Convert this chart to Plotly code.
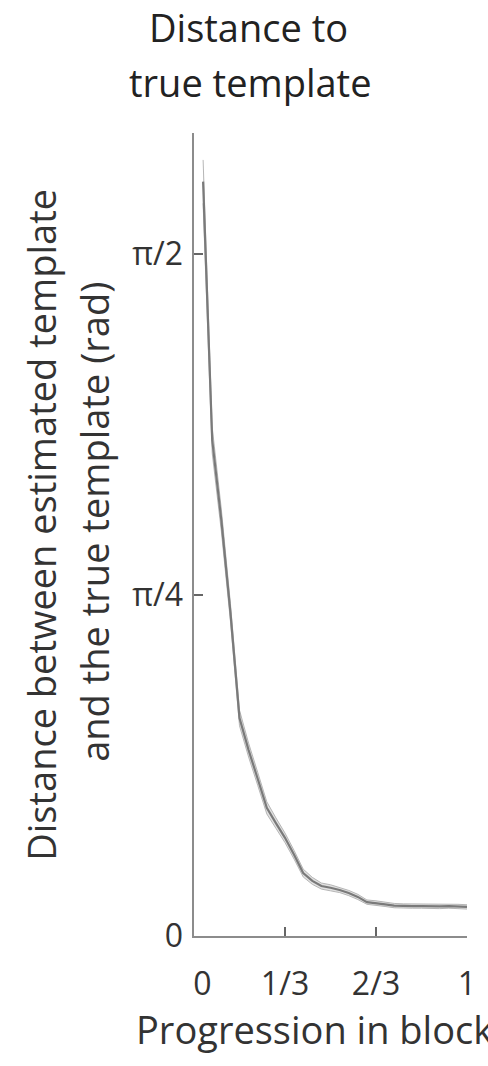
import math
import plotly.graph_objects as go

# ---- data ----
progress = [1/30, 2/30, 3/30, 4/30, 5/30, 6/30, 7/30, 8/30, 9/30, 10/30,
            11/30, 12/30, 13/30, 14/30, 15/30, 16/30, 17/30, 18/30, 19/30, 20/30,
            21/30, 22/30, 23/30, 24/30, 25/30, 26/30, 27/30, 28/30, 29/30, 30/30]
distance = [1.737, 1.142, 0.958, 0.746, 0.502, 0.428, 0.362, 0.295, 0.260, 0.226,
            0.187, 0.145, 0.127, 0.115, 0.111, 0.106, 0.099, 0.090, 0.078, 0.076,
            0.073, 0.070, 0.069, 0.069, 0.069, 0.068, 0.068, 0.069, 0.068, 0.067]
spread = [0.050, 0.030, 0.025, 0.020, 0.018, 0.016, 0.015, 0.014, 0.012, 0.011,
          0.010, 0.009, 0.008, 0.007, 0.007, 0.006, 0.006, 0.006, 0.005, 0.005,
          0.005, 0.005, 0.005, 0.005, 0.005, 0.005, 0.005, 0.005, 0.005, 0.005]
x_tickvals = [0, 1/3, 2/3, 1]
x_ticktext = ["\u00a0\u00a00", "1/3", "2/3", "1"]
y_tickvals = [0, math.pi / 4, math.pi / 2]
y_ticktext = ["0", "π/4", "π/2"]

lower = [d - s for d, s in zip(distance, spread)]
upper = [d + s for d, s in zip(distance, spread)]

W, H = 488, 1066
L, R, T, B = 194, 16, 133, 130
PW, PH = W - L - R, H - T - B

def px(xpage):
    return (xpage - L) / PW

def py(ypage):
    return (H - B - ypage) / PH

FONT = "Open Sans"
fig = go.Figure()
fig.add_trace(go.Scatter(x=progress, y=lower, mode="lines",
                         line=dict(color="rgba(175,175,175,0.9)", width=1),
                         hoverinfo="skip", showlegend=False))
fig.add_trace(go.Scatter(x=progress, y=upper, mode="lines", fill="tonexty",
                         fillcolor="rgba(205,205,205,0.6)",
                         line=dict(color="rgba(175,175,175,0.9)", width=1),
                         hoverinfo="skip", showlegend=False))
fig.add_trace(go.Scatter(x=progress, y=distance, mode="lines",
                         line=dict(color="#7a7a7a", width=2.2),
                         showlegend=False))

axis_common = dict(showgrid=False, zeroline=False, showline=True,
                   linecolor="#8c8c8c", linewidth=1.6,
                   ticks="inside", ticklen=9, tickwidth=1.4, tickcolor="#666",
                   tickfont=dict(family=FONT, size=32, color="#333"))

fig.update_layout(
    width=W, height=H,
    margin=dict(l=L, r=R, t=T, b=B),
    paper_bgcolor="white", plot_bgcolor="white",
    hovermode=False,
    xaxis=dict(range=[0, 1], tickvals=x_tickvals, ticktext=x_ticktext,
               ticklabelstandoff=19, **axis_common),
    yaxis=dict(range=[0, 1.849], tickvals=y_tickvals, ticktext=y_ticktext,
               ticklabelstandoff=3, **axis_common),
    annotations=[
        dict(text="Distance to", x=px(249), y=py(27.5), xref="paper", yref="paper",
             xanchor="center", yanchor="middle", showarrow=False,
             font=dict(family=FONT, size=38, color="#222")),
        dict(text="true template", x=px(252), y=py(82.5), xref="paper", yref="paper",
             xanchor="center", yanchor="middle", showarrow=False,
             font=dict(family=FONT, size=38, color="#222")),
        dict(text="Progression in block", x=px(133), y=py(1029), xref="paper", yref="paper",
             xanchor="left", yanchor="middle", showarrow=False,
             font=dict(family=FONT, size=38, color="#333")),
        dict(text="Distance between estimated template", x=px(38), y=py(525),
             xref="paper", yref="paper", textangle=-90,
             xanchor="center", yanchor="middle", showarrow=False,
             font=dict(family=FONT, size=38, color="#333")),
        dict(text="and the true template (rad)", x=px(92), y=py(522),
             xref="paper", yref="paper", textangle=-90,
             xanchor="center", yanchor="middle", showarrow=False,
             font=dict(family=FONT, size=38, color="#333")),
    ],
)

# remove the browser's default 8px body margin so the figure fills the page
fig.write_html("out.html",
               config={"displayModeBar": False, "staticPlot": True},
               post_script="document.body.style.margin='0';document.body.style.overflow='hidden';")
